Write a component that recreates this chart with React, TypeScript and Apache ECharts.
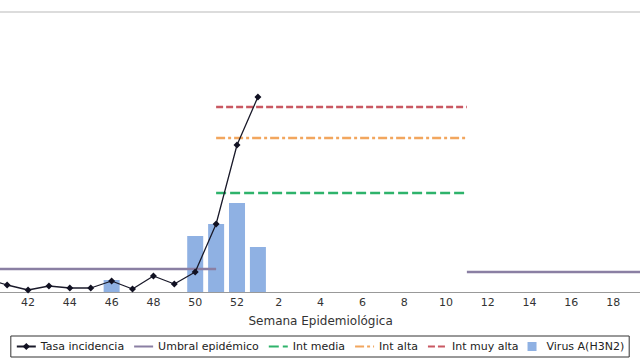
import React, { useEffect, useRef } from "react";
import * as echarts from "echarts";

const weeks = [
  "40", "41", "42", "43", "44", "45", "46", "47", "48", "49", "50", "51", "52",
  "1", "2", "3", "4", "5", "6", "7", "8", "9", "10", "11", "12", "13", "14", "15", "16", "17", "18", "19", "20",
];
const n = null;
const tasa = [26, 14, 4, 12, 8, 8, 22, 6, 32, 16, 40, 136, 294, 390, n, n, n, n, n, n, n, n, n, n, n, n, n, n, n, n, n, n, n];
const umbral = [46, 46, 46, 46, 46, 46, 46, 46, 46, 46, 46, 46, n, n, n, n, n, n, n, n, n, n, n, 40, 40, 40, 40, 40, 40, 40, 40, 40, 40];
const intMedia = [n, n, n, n, n, n, n, n, n, n, n, 198, 198, 198, 198, 198, 198, 198, 198, 198, 198, 198, 198, 198, n, n, n, n, n, n, n, n, n];
const intAlta = [n, n, n, n, n, n, n, n, n, n, n, 308, 308, 308, 308, 308, 308, 308, 308, 308, 308, 308, 308, 308, n, n, n, n, n, n, n, n, n];
const intMuyAlta = [n, n, n, n, n, n, n, n, n, n, n, 370, 370, 370, 370, 370, 370, 370, 370, 370, 370, 370, 370, 370, n, n, n, n, n, n, n, n, n];
const virus = [n, n, n, n, n, n, 24, n, n, n, 112, 136, 178, 90, n, n, n, n, n, n, n, n, n, n, n, n, n, n, n, n, n, n, n];

export default function App() {
  const ref = useRef<HTMLDivElement>(null);
  useEffect(() => {
    const chart = echarts.init(ref.current!, null, { renderer: "svg" });
    const font = "DejaVu Sans";
    const hideSym = { opacity: 0 };
    chart.setOption({
      animation: false,
      backgroundColor: "#ffffff",
      graphic: [
        { type: "rect", left: 0, top: 11, shape: { width: 640, height: 2 }, style: { fill: "#dcdcdc" } },
      ],
      grid: {
        left: -24.2,
        right: -25.4,
        top: 12,
        bottom: 68,
        containLabel: false,
        outerBoundsMode: "none",
      },
      legend: {
        left: "center",
        bottom: 3,
        padding: [5, 5],
        borderColor: "#333",
        borderWidth: 1,
        itemWidth: 19,
        itemHeight: 9,
        itemGap: 9,
        textStyle: { fontFamily: font, fontSize: 11, color: "#222" },
        data: [
          { name: "Tasa incidencia" },
          { name: "Umbral epidémico", itemStyle: hideSym },
          { name: "Int media", itemStyle: hideSym },
          { name: "Int alta", itemStyle: hideSym },
          { name: "Int muy alta", itemStyle: hideSym },
          { name: "Virus A(H3N2)", icon: "path://M0,0h1v1h-1z" },
        ],
      },
      xAxis: {
        type: "category",
        data: weeks,
        boundaryGap: true,
        name: "Semana Epidemiológica",
        nameLocation: "middle",
        nameGap: 23,
        nameTextStyle: { fontFamily: font, fontSize: 12, color: "#333" },
        axisLine: { lineStyle: { color: "#999", width: 1 } },
        axisTick: { show: false },
        axisLabel: {
          interval: (i: number) => i % 2 === 0 && i > 0 && i < weeks.length - 1,
          fontFamily: font,
          fontSize: 11,
          color: "#333",
          margin: 5,
        },
        splitLine: { show: false },
      },
      yAxis: {
        type: "value",
        min: 0,
        max: 560,
        show: false,
        splitLine: { show: false },
      },
      series: [
        {
          name: "Virus A(H3N2)",
          type: "bar",
          data: virus,
          barWidth: 16,
          itemStyle: { color: "#8fb1e3" },
          z: 1,
        },
        {
          name: "Umbral epidémico",
          type: "line",
          data: umbral,
          symbol: "none",
          lineStyle: { color: "#8a7fa3", width: 2.5 },
          itemStyle: { color: "#8a7fa3" },
          z: 2,
        },
        {
          name: "Int media",
          type: "line",
          data: intMedia,
          symbol: "none",
          lineStyle: { color: "#2eb36b", width: 2.5, type: [10, 4] },
          itemStyle: { color: "#2eb36b" },
          z: 2,
        },
        {
          name: "Int alta",
          type: "line",
          data: intAlta,
          symbol: "none",
          lineStyle: { color: "#f2a65e", width: 2.5, type: [9, 3, 3, 3] },
          itemStyle: { color: "#f2a65e" },
          z: 2,
        },
        {
          name: "Int muy alta",
          type: "line",
          data: intMuyAlta,
          symbol: "none",
          lineStyle: { color: "#c95862", width: 2.5, type: [7, 3] },
          itemStyle: { color: "#c95862" },
          z: 2,
        },
        {
          name: "Tasa incidencia",
          type: "line",
          data: tasa,
          symbol: "diamond",
          symbolSize: 7,
          showAllSymbol: true,
          lineStyle: { color: "#1a1a2a", width: 1.3 },
          itemStyle: { color: "#111122" },
          z: 5,
        },
      ],
    });
    return () => chart.dispose();
  }, []);
  return <div ref={ref} style={{ width: 640, height: 360, position: "fixed", left: 0, top: 0 }} />;
}
